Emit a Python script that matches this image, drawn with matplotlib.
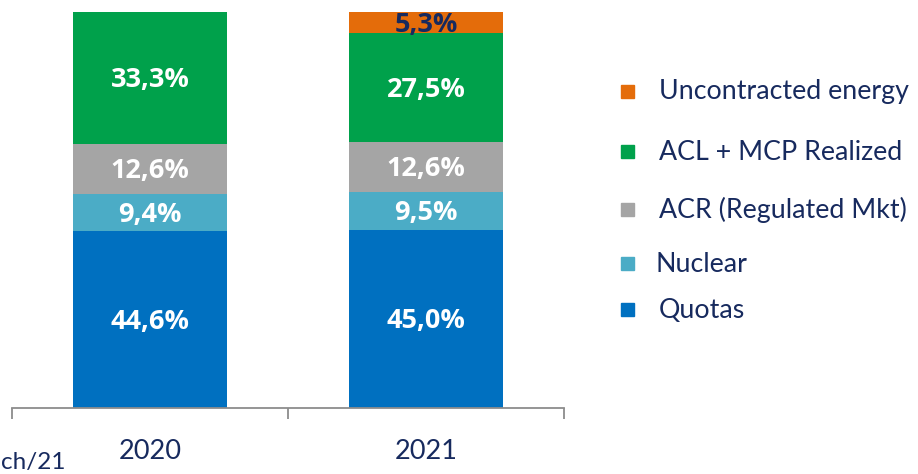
import matplotlib.pyplot as plt
from matplotlib.patches import Rectangle

plt.rcParams['font.family'] = ['Lato', 'DejaVu Sans']

years = ['2020', '2021']
series = ['Quotas', 'Nuclear', 'ACR (Regulated Mkt)', 'ACL + MCP Realized', 'Uncontracted energy']
quotas = [44.6, 45.0]
nuclear = [9.4, 9.5]
acr = [12.6, 12.6]
acl = [33.3, 27.5]
uncontracted = [0.0, 5.3]
values = [quotas, nuclear, acr, acl, uncontracted]
colors = ['#0070C0', '#4BACC6', '#A5A5A5', '#00A14B', '#E46C0A']
navy = '#172A5E'

fig = plt.figure(figsize=(9.18, 4.74), dpi=100)
ax = fig.add_axes([12 / 918, 66 / 474, 552 / 918, 396 / 474])

x = [0, 1]
bottom = [0.0, 0.0]
for vals, col in zip(values, colors):
    ax.bar(x, vals, width=0.56, bottom=bottom, color=col)
    for i, v in enumerate(vals):
        if v <= 0:
            continue
        txt_col = navy if col == '#E46C0A' else 'white'
        ax.text(x[i], bottom[i] + v / 2 - 0.6, f'{v:.1f}%'.replace('.', ','),
                ha='center', va='center', color=txt_col, fontsize=19.5,
                fontweight='bold', family=['Open Sans', 'DejaVu Sans'])
    bottom = [b + v for b, v in zip(bottom, vals)]

ax.set_xlim(-0.5, 1.5)
ax.set_ylim(0, 99.9)
ax.set_yticks([])
for s in ['top', 'right', 'left']:
    ax.spines[s].set_visible(False)
ax.spines['bottom'].set_color('#8C8C8C')
ax.spines['bottom'].set_linewidth(1.3)
ax.set_xticks([-0.5, 0.5, 1.5])
ax.set_xticklabels([])
ax.tick_params(axis='x', length=8, width=1.3, color='#8C8C8C')
ax.set_xticks(x, minor=True)
ax.set_xticklabels(years, minor=True)
ax.tick_params(axis='x', which='minor', length=0, pad=22, labelsize=19.5, labelcolor=navy)

fig.text(1 / 918, 1 - 462 / 474, 'ch/21', ha='left', va='center', fontsize=17.5, color=navy)

# legend, top to bottom
leg_y = [92, 152, 210, 264, 310]
leg_x = [659, 659, 659, 656, 659]
for name, col, yy, xx in zip(series[::-1], colors[::-1], leg_y, leg_x):
    fig.patches.append(Rectangle((621 / 918, 1 - (yy + 6) / 474), 13 / 918, 13 / 474,
                                 transform=fig.transFigure, color=col))
    fig.text(xx / 918, 1 - yy / 474, name, ha='left', va='center', fontsize=19.3, color=navy)

fig.savefig('out.png', dpi=100)
